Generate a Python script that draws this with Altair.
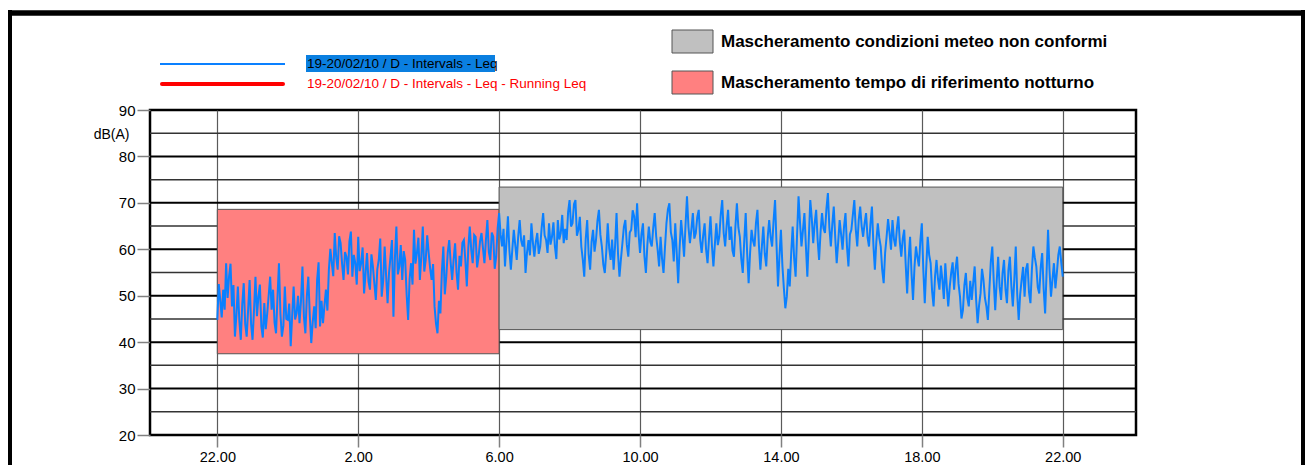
import altair as alt
import pandas as pd

# ---------------- data ----------------
# Leq values (dB(A)), 2.5-minute intervals from 22:00 (hour 0) to 22:00 next day (hour 24)
h0 = [44.8, 52.5, 49.1, 45.3, 51.3, 47.0, 57.0, 49.5, 54.1, 56.9, 47.7, 52.3,
      41.2, 45.8, 52.0, 44.6, 40.5, 48.2, 52.7, 43.9, 41.2, 47.0, 53.4, 44.0]
h1 = [40.5, 46.9, 54.1, 45.6, 49.8, 52.4, 43.4, 41.0, 48.4, 42.8, 46.2, 50.1,
      54.1, 47.0, 51.3, 44.2, 41.9, 49.7, 57.0, 46.1, 41.2, 43.5, 52.0, 45.0]
h2 = [44.8, 48.3, 39.1, 45.7, 52.0, 44.9, 46.2, 50.0, 44.1, 48.8, 56.3, 45.5,
      41.9, 49.9, 54.1, 45.8, 39.8, 44.3, 47.7, 43.0, 53.4, 57.2, 43.4, 48.9]
h3 = [44.1, 47.9, 51.3, 46.8, 55.6, 60.1, 57.0, 54.2, 63.5, 58.3, 55.6, 62.8,
      61.3, 56.9, 53.4, 59.4, 58.4, 54.6, 61.7, 63.8, 54.1, 58.8, 57.0, 52.4]
h4 = [62.7, 55.3, 57.0, 60.4, 50.5, 54.8, 59.2, 53.1, 51.3, 58.9, 56.3, 52.6,
      49.1, 55.7, 57.7, 62.3, 49.8, 53.2, 60.6, 54.3, 48.4, 55.0, 58.4, 62.0]
h5 = [45.5, 58.1, 64.9, 54.6, 56.3, 60.9, 53.4, 59.6, 57.7, 50.2, 44.8, 53.6,
      57.0, 52.4, 64.2, 56.9, 59.2, 62.5, 53.4, 58.5, 64.9, 55.2, 57.7, 63.0]
h6 = [59.2, 55.9, 53.4, 56.8, 47.7, 44.0, 41.9, 48.9, 46.2, 55.2, 60.6, 50.3,
      54.1, 59.3, 62.0, 57.1, 53.4, 57.8, 61.3, 55.0, 51.3, 58.6, 56.3, 61.4]
h7 = [62.0, 57.6, 52.0, 60.3, 64.9, 59.9, 57.0, 63.1, 62.7, 56.1, 58.4, 61.7,
      63.5, 60.2, 57.0, 62.0, 66.3, 59.4, 57.7, 63.6, 62.7, 55.8, 58.4, 64.5]
h8 = [67.8, 63.2, 60.6, 64.4, 56.3, 61.6, 67.1, 59.8, 55.6, 60.0, 64.2, 60.9,
      57.7, 62.8, 66.3, 61.9, 60.6, 63.0, 54.9, 59.3, 62.0, 58.7, 65.6, 61.5]
h9 = [58.4, 61.6, 63.5, 59.0, 60.6, 64.7, 67.8, 63.0, 62.0, 59.2, 65.6, 61.0,
      62.7, 65.8, 60.6, 57.9, 66.3, 62.1, 63.5, 67.4, 61.3, 64.4, 62.0, 68.0]
h10 = [70.6, 64.9, 65.6, 69.7, 70.6, 62.9, 64.2, 67.0, 60.6, 57.8, 54.1, 62.2,
       66.3, 58.9, 55.6, 61.6, 64.2, 59.5, 62.0, 66.1, 68.5, 63.1, 60.6, 56.7]
h11 = [54.9, 59.4, 65.6, 60.2, 57.7, 62.1, 55.6, 60.7, 67.8, 59.1, 54.1, 57.9,
       61.3, 64.8, 66.3, 61.0, 58.4, 63.6, 64.2, 68.4, 67.1, 62.6, 69.9, 63.4]
h12 = [59.2, 63.3, 65.6, 58.5, 54.9, 61.0, 64.9, 61.6, 60.6, 64.6, 67.8, 62.8,
       59.9, 56.3, 62.7, 58.0, 54.9, 60.4, 65.6, 68.6, 69.9, 63.7, 62.0, 57.4]
h13 = [65.6, 59.3, 52.7, 60.5, 66.3, 62.7, 58.4, 65.2, 71.4, 64.8, 61.3, 64.3,
       67.8, 62.3, 63.5, 66.9, 68.5, 62.0, 59.2, 62.9, 65.6, 60.0, 57.0, 62.3]
h14 = [67.1, 60.8, 56.3, 61.1, 65.6, 60.9, 62.7, 67.5, 70.6, 63.5, 60.6, 65.1,
       68.5, 62.0, 64.9, 59.7, 58.4, 64.9, 69.9, 64.7, 62.7, 57.9, 54.9, 61.8]
h15 = [67.8, 59.1, 52.7, 59.3, 64.2, 61.8, 60.6, 65.7, 68.5, 60.9, 55.6, 60.5,
       64.9, 59.0, 56.3, 62.6, 66.3, 62.6, 60.6, 66.2, 70.6, 61.1, 52.0, 58.6]
h16 = [64.2, 56.5, 51.7, 47.3, 49.8, 55.8, 52.0, 59.2, 64.9, 58.1, 54.1, 63.2,
       71.4, 65.8, 60.6, 64.1, 67.8, 60.8, 54.1, 62.4, 70.6, 66.8, 61.3, 65.6]
h17 = [68.5, 62.1, 57.7, 63.7, 67.8, 64.5, 63.5, 68.7, 72.1, 64.7, 60.6, 65.4,
       69.2, 62.5, 57.0, 61.5, 66.3, 63.2, 59.9, 64.9, 67.8, 60.6, 56.3, 63.2]
h18 = [64.2, 67.4, 70.6, 64.3, 60.6, 66.3, 69.2, 65.0, 62.7, 65.6, 67.8, 62.6,
       60.6, 65.5, 69.2, 61.0, 55.6, 61.6, 65.6, 62.5, 60.6, 55.6, 52.7, 59.3]
h19 = [62.7, 66.5, 63.5, 59.9, 66.3, 62.2, 60.6, 64.4, 67.1, 61.6, 58.4, 62.3,
       64.2, 56.8, 50.5, 57.9, 62.7, 54.7, 49.1, 56.2, 60.6, 58.3, 56.3, 61.9]
h20 = [65.6, 55.7, 48.4, 56.0, 62.7, 58.8, 57.0, 51.0, 47.7, 54.2, 57.7, 53.6,
       51.3, 56.5, 53.4, 49.3, 57.0, 51.9, 47.7, 51.9, 54.9, 57.2, 51.3, 55.8]
h21 = [58.4, 52.6, 49.8, 45.1, 46.9, 52.3, 54.9, 49.6, 47.7, 53.2, 49.1, 52.8,
       56.3, 49.2, 44.1, 47.9, 50.5, 55.8, 53.4, 49.5, 47.7, 44.8, 51.3, 57.3]
h22 = [60.6, 53.1, 46.9, 53.0, 58.4, 51.9, 49.1, 54.8, 57.7, 51.4, 48.4, 55.5,
       58.4, 52.1, 47.7, 53.4, 60.6, 50.3, 44.8, 50.3, 53.4, 56.2, 49.8, 55.7]
h23 = [57.0, 50.8, 48.4, 55.7, 60.6, 58.2, 56.3, 51.8, 50.5, 56.1, 59.2, 51.5,
       46.2, 55.0, 64.2, 55.5, 49.8, 53.5, 57.0, 51.6, 54.9, 58.8, 60.6, 57.1]
last = [54.1]

leq = (h0 + h1 + h2 + h3 + h4 + h5 + h6 + h7 + h8 + h9 + h10 + h11 + h12 +
       h13 + h14 + h15 + h16 + h17 + h18 + h19 + h20 + h21 + h22 + h23 + last)
hours = [i * 2.5 / 60 for i in range(len(leq))]

# masking rectangles
mask_names = ["Mascheramento tempo di riferimento notturno",
              "Mascheramento condizioni meteo non conformi"]
mask_start = [0, 8]
mask_end = [8, 24]
mask_low = [37.5, 42.7]
mask_high = [68.6, 73.4]
mask_colors = ["#FF8080", "#C0C0C0"]

# axes
x_tick_values = [0, 4, 8, 12, 16, 20, 24]
x_tick_labels = ["22.00", "2.00", "6.00", "10.00", "14.00", "18.00", "22.00"]
y_tick_values = [20, 30, 40, 50, 60, 70, 80, 90]
grid_major = [30, 40, 50, 60, 70, 80]
grid_minor = [25, 35, 45, 55, 65, 75, 85]

series_names = ["19-20/02/10 / D - Intervals - Leq",
                "19-20/02/10 / D - Intervals - Leq - Running Leq"]

# ---------------- chart ----------------
FONT = "Liberation Sans"
W, H = 986, 325

line_df = pd.DataFrame({"t": hours, "leq": leq})
mask_df = pd.DataFrame({"name": mask_names, "start": mask_start, "end": mask_end,
                        "low": mask_low, "high": mask_high})
one = pd.DataFrame({"d": [0]})

xscale = alt.Scale(domain=[-1.911, 26.08], nice=False, zero=False)
yscale = alt.Scale(domain=[20, 90], nice=False, zero=False)

label_expr = "[" + ",".join("'%s'" % s for s in x_tick_labels) + "][indexof([" + \
    ",".join(str(v) for v in x_tick_values) + "], datum.value)]"

xaxis = alt.Axis(values=x_tick_values, labelExpr=label_expr, title=None,
                 grid=True, gridColor="#5a5a5a", gridWidth=1.2, domain=False,
                 tickColor="#808080", tickSize=12, tickWidth=1.5, labelPadding=3,
                 labelFontSize=14.5, labelColor="black", labelFont=FONT)
yaxis = alt.Axis(values=y_tick_values, title="dB(A)", grid=False, domain=False,
                 tickColor="#808080", tickSize=13, tickWidth=1.5, labelPadding=2,
                 labelFontSize=15, labelColor="black", labelFont=FONT,
                 titleAngle=0, titleX=-21, titleY=24, titleAlign="right",
                 titleBaseline="middle", titleFontWeight="normal", titleFontSize=14,
                 titleFont=FONT, titleColor="black")

hmajor = alt.Chart(pd.DataFrame({"g": grid_major})).mark_rule(
    color="black", strokeWidth=2).encode(
    y=alt.Y("g:Q", scale=yscale, axis=yaxis))
hminor = alt.Chart(pd.DataFrame({"g": grid_minor})).mark_rule(
    color="#333333", strokeWidth=1.5).encode(
    y=alt.Y("g:Q", scale=yscale, axis=yaxis))

rects = alt.Chart(mask_df).mark_rect(stroke="#555555", strokeWidth=1).encode(
    x=alt.X("start:Q", scale=xscale, axis=xaxis), x2="end:Q",
    y=alt.Y("low:Q", scale=yscale, axis=yaxis), y2="high:Q",
    color=alt.Color("name:N", scale=alt.Scale(domain=mask_names, range=mask_colors),
                    legend=None))

line = alt.Chart(line_df).mark_line(color="#0A80FF", strokeWidth=2).encode(
    x=alt.X("t:Q", scale=xscale, axis=xaxis),
    y=alt.Y("leq:Q", scale=yscale, axis=yaxis))

# ---- legend / frame decorations (pixel positions relative to plot origin) ----
deco = []
# outer black frame
deco.append(alt.Chart(one).mark_rule(color="black", strokeWidth=5.5).encode(
    x=alt.value(-142), x2=alt.value(1155), y=alt.value(-97)))
deco.append(alt.Chart(one).mark_rule(color="black", strokeWidth=4).encode(
    x=alt.value(-140), y=alt.value(-100), y2=alt.value(360)))
deco.append(alt.Chart(one).mark_rule(color="black", strokeWidth=4).encode(
    x=alt.value(1153), y=alt.value(-100), y2=alt.value(360)))
# series legend
deco.append(alt.Chart(one).mark_rule(color="#0A80FF", strokeWidth=2).encode(
    x=alt.value(10), x2=alt.value(135), y=alt.value(-46)))
deco.append(alt.Chart(one).mark_rule(color="#FF0000", strokeWidth=4, strokeCap="round").encode(
    x=alt.value(12), x2=alt.value(133), y=alt.value(-26)))
deco.append(alt.Chart(one).mark_rect(color="#0A7FE0").encode(
    x=alt.value(156), x2=alt.value(345), y=alt.value(-55), y2=alt.value(-38)))
deco.append(alt.Chart(one).mark_text(align="left", baseline="middle", font=FONT,
                                     fontSize=13.5, color="black", text=series_names[0]).encode(
    x=alt.value(157), y=alt.value(-46)))
deco.append(alt.Chart(one).mark_text(align="left", baseline="middle", font=FONT,
                                     fontSize=13.5, color="#FF0000", text=series_names[1]).encode(
    x=alt.value(157), y=alt.value(-26)))
# mask legend
deco.append(alt.Chart(one).mark_rect(color=mask_colors[1], stroke="#555555", strokeWidth=1).encode(
    x=alt.value(522), x2=alt.value(563), y=alt.value(-80), y2=alt.value(-57)))
deco.append(alt.Chart(one).mark_rect(color=mask_colors[0], stroke="#555555", strokeWidth=1).encode(
    x=alt.value(522), x2=alt.value(563), y=alt.value(-39), y2=alt.value(-16)))
deco.append(alt.Chart(one).mark_text(align="left", baseline="middle", font=FONT,
                                     fontSize=17, fontWeight="bold", color="black",
                                     text=mask_names[1]).encode(
    x=alt.value(571), y=alt.value(-68)))
deco.append(alt.Chart(one).mark_text(align="left", baseline="middle", font=FONT,
                                     fontSize=17, fontWeight="bold", color="black",
                                     text=mask_names[0]).encode(
    x=alt.value(571), y=alt.value(-27)))

chart = alt.layer(hmajor, hminor, rects, line, *deco).resolve_scale(
    x="shared", y="shared"
).properties(
    width=W, height=H,
    padding={"left": 142, "top": 102, "right": 169, "bottom": 30},
    autosize=alt.AutoSizeParams(type="none"),
).configure(
    font=FONT, background="white",
    view=alt.ViewConfig(stroke="black", strokeWidth=2.5),
)

chart.save("out.html", embed_options={"renderer": "svg", "actions": False})
